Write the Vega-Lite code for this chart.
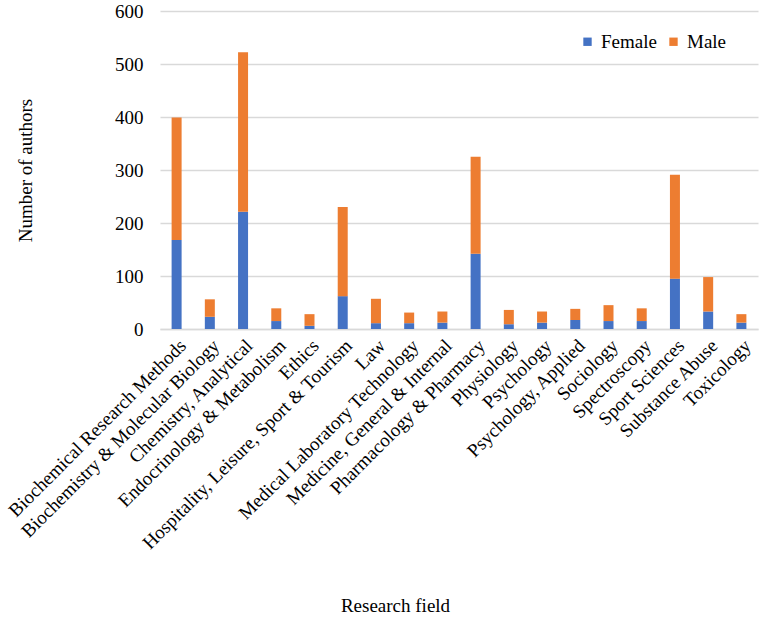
{
  "$schema": "https://vega.github.io/schema/vega-lite/v6.json",
  "autosize": {"type": "none"},
  "width": 598,
  "height": 318,
  "padding": {"left": 160, "top": 11, "right": 7, "bottom": 292},
  "background": "white",
  "config": {
    "font": "Liberation Serif",
    "view": {"stroke": null},
    "axis": {"labelFont": "Liberation Serif", "titleFont": "Liberation Serif", "labelColor": "#000", "titleColor": "#000", "titleFontWeight": "normal"}
  },
  "data": {
    "values": [
      {"field": "Biochemical Research Methods", "gender": "Female", "n": 168},
      {"field": "Biochemical Research Methods", "gender": "Male", "n": 231},
      {"field": "Biochemistry & Molecular Biology", "gender": "Female", "n": 23},
      {"field": "Biochemistry & Molecular Biology", "gender": "Male", "n": 33},
      {"field": "Chemistry, Analytical", "gender": "Female", "n": 221},
      {"field": "Chemistry, Analytical", "gender": "Male", "n": 301},
      {"field": "Endocrinology & Metabolism", "gender": "Female", "n": 15},
      {"field": "Endocrinology & Metabolism", "gender": "Male", "n": 24},
      {"field": "Ethics", "gender": "Female", "n": 6},
      {"field": "Ethics", "gender": "Male", "n": 22},
      {"field": "Hospitality, Leisure, Sport & Tourism", "gender": "Female", "n": 62},
      {"field": "Hospitality, Leisure, Sport & Tourism", "gender": "Male", "n": 168},
      {"field": "Law", "gender": "Female", "n": 11},
      {"field": "Law", "gender": "Male", "n": 46},
      {"field": "Medical Laboratory Technology", "gender": "Female", "n": 11},
      {"field": "Medical Laboratory Technology", "gender": "Male", "n": 20},
      {"field": "Medicine, General & Internal", "gender": "Female", "n": 12},
      {"field": "Medicine, General & Internal", "gender": "Male", "n": 21},
      {"field": "Pharmacology & Pharmacy", "gender": "Female", "n": 142},
      {"field": "Pharmacology & Pharmacy", "gender": "Male", "n": 183},
      {"field": "Physiology", "gender": "Female", "n": 9},
      {"field": "Physiology", "gender": "Male", "n": 27},
      {"field": "Psychology", "gender": "Female", "n": 12},
      {"field": "Psychology", "gender": "Male", "n": 21},
      {"field": "Psychology, Applied", "gender": "Female", "n": 17},
      {"field": "Psychology, Applied", "gender": "Male", "n": 21},
      {"field": "Sociology", "gender": "Female", "n": 15},
      {"field": "Sociology", "gender": "Male", "n": 30},
      {"field": "Spectroscopy", "gender": "Female", "n": 15},
      {"field": "Spectroscopy", "gender": "Male", "n": 24},
      {"field": "Sport Sciences", "gender": "Female", "n": 95},
      {"field": "Sport Sciences", "gender": "Male", "n": 196},
      {"field": "Substance Abuse", "gender": "Female", "n": 33},
      {"field": "Substance Abuse", "gender": "Male", "n": 65},
      {"field": "Toxicology", "gender": "Female", "n": 12},
      {"field": "Toxicology", "gender": "Male", "n": 16}
    ]
  },
  "mark": {"type": "bar", "size": 10},
  "encoding": {
    "x": {
      "field": "field",
      "type": "nominal",
      "sort": null,
      "scale": {"paddingInner": 0.7, "paddingOuter": 0.35},
      "axis": {
        "title": "Research field",
        "titleFontSize": 19,
        "titleX": 235,
        "titleY": 276,
        "titleBaseline": "middle",
        "titleAnchor": "middle",
        "titleAlign": "center",
        "labelAngle": -45,
        "labelFontSize": 19,
        "labelPadding": 7,
        "labelOverlap": false,
        "labelLimit": 0,
        "ticks": false,
        "domainColor": "#d9d9d9",
        "domainWidth": 1.5
      }
    },
    "y": {
      "field": "n",
      "type": "quantitative",
      "stack": "zero",
      "scale": {"domain": [0, 600]},
      "axis": {
        "title": "Number of authors",
        "titleFontSize": 19,
        "titleX": -135,
        "titleY": 159,
        "titleBaseline": "middle",
        "titleAngle": -90,
        "titleAnchor": "middle",
        "titleAlign": "center",
        "values": [0, 100, 200, 300, 400, 500, 600],
        "labelFontSize": 19,
        "labelPadding": 17,
        "ticks": false,
        "domain": false,
        "gridColor": "#d9d9d9",
        "gridWidth": 1.5
      }
    },
    "color": {
      "field": "gender",
      "type": "nominal",
      "scale": {"domain": ["Female", "Male"], "range": ["#4472C4", "#ED7D31"]},
      "legend": {
        "title": null,
        "orient": "none",
        "legendX": 418,
        "legendY": 21,
        "direction": "horizontal",
        "symbolType": "square",
        "symbolSize": 70,
        "symbolStrokeWidth": 0,
        "labelFontSize": 19,
        "labelFont": "Liberation Serif",
        "labelColor": "#000",
        "columnPadding": 7,
        "labelOffset": 4
      }
    },
    "order": {"field": "gender", "sort": "ascending"}
  }
}
